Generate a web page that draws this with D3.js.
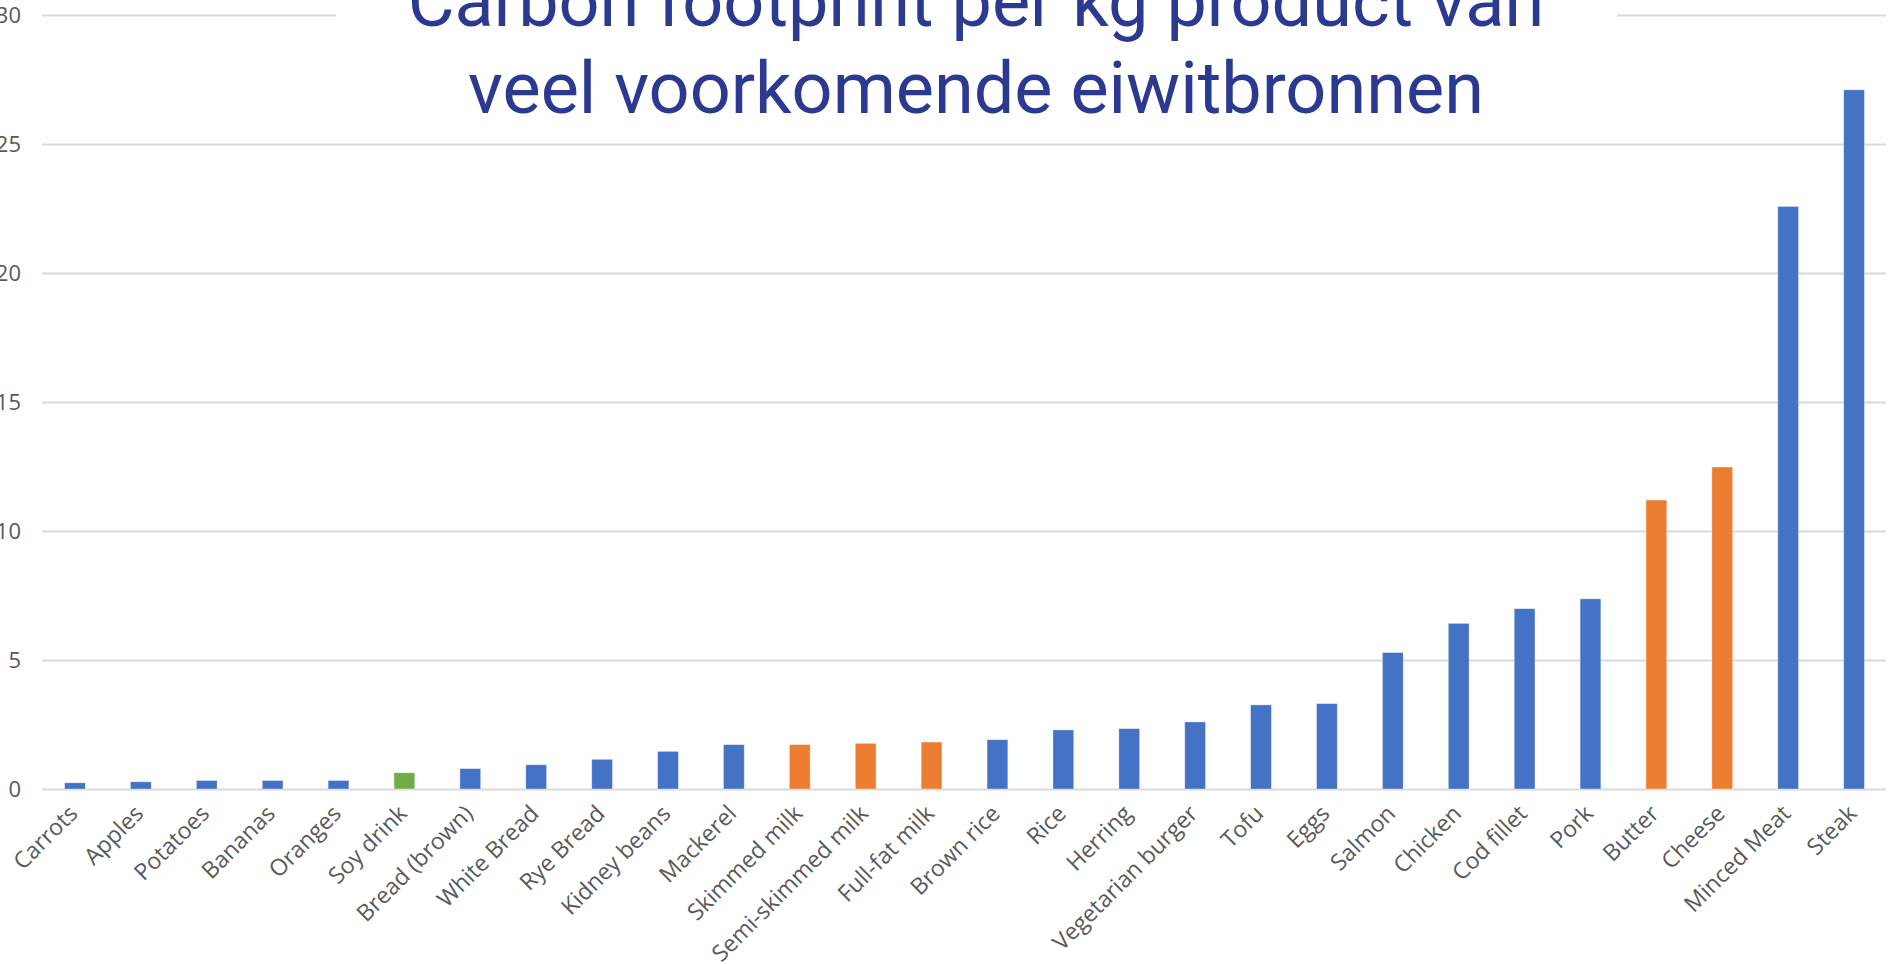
<!DOCTYPE html>
<html>
<head>
<meta charset="utf-8">
<script src="https://cdn.jsdelivr.net/npm/d3@7"></script>
<style>
  html, body { margin: 0; padding: 0; background: #ffffff; overflow: hidden; }
  svg { display: block; }
</style>
</head>
<body>
<svg id="chart" width="1895" height="964"></svg>
<script>
const categories = ["Carrots","Apples","Potatoes","Bananas","Oranges","Soy drink","Bread (brown)","White Bread","Rye Bread","Kidney beans","Mackerel","Skimmed milk","Semi-skimmed milk","Full-fat milk","Brown rice","Rice","Herring","Vegetarian burger","Tofu","Eggs","Salmon","Chicken","Cod fillet","Pork","Butter","Cheese","Minced Meat","Steak"];
const values = [0.24,0.28,0.33,0.33,0.33,0.63,0.79,0.94,1.15,1.46,1.72,1.72,1.77,1.82,1.91,2.29,2.34,2.60,3.26,3.31,5.29,6.42,6.99,7.37,11.2,12.48,22.58,27.1];
const groups = ["other","other","other","other","other","soy","other","other","other","other","other","dairy","dairy","dairy","other","other","other","other","other","other","other","other","other","other","dairy","dairy","other","other"];
const groupKeys = ["other","dairy","soy"];
const groupColors = ["#4472C4","#ED7D31","#70AD47"];
const yTicks = [0,5,10,15,20,25,30];
const titleLines = ["Carbon footprint per kg product van","veel voorkomende eiwitbronnen"];

const data = categories.map((c,i)=>({cat:c, value:values[i], group:groups[i]}));
const svg = d3.select("#chart");

const x = d3.scaleBand().domain(categories).range([42, 1887]).paddingInner(0.685).paddingOuter(0.3425);
const y = d3.scaleLinear().domain([0,30]).range([789, 15]);
const color = d3.scaleOrdinal().domain(groupKeys).range(groupColors);

// gridlines
const yAxis = d3.axisLeft(y).tickValues(yTicks).tickSize(-(1886-42)).tickPadding(21).tickFormat(d3.format("d"));
const gy = svg.append("g").attr("transform","translate(42,0)").call(yAxis);
gy.select(".domain").remove();
gy.selectAll(".tick line").attr("stroke","#D9D9D9").attr("stroke-width",1.8);
gy.selectAll(".tick text").attr("fill","#595959").attr("font-family","'Open Sans', sans-serif").attr("font-size","22px");

// bars
svg.append("g").selectAll("rect").data(data).join("rect")
  .attr("x", d=>x(d.cat))
  .attr("width", x.bandwidth())
  .attr("y", d=>y(d.value))
  .attr("height", d=>y(0)-y(d.value))
  .attr("fill", d=>color(d.group))
  .attr("stroke","#ffffff").attr("stroke-opacity",0.45).attr("stroke-width",0.8);

// x labels
const xAxis = d3.axisBottom(x).tickSize(0).tickPadding(0);
const gx = svg.append("g").attr("transform","translate(0,789)").call(xAxis);
gx.select(".domain").remove();
gx.selectAll(".tick text")
  .attr("fill","#595959").attr("font-family","'Open Sans', sans-serif").attr("font-size","23px")
  .attr("text-anchor","end").attr("dy",0).attr("y",0)
  .attr("transform","translate(4,26) rotate(-45)");

// title background & title
svg.append("rect").attr("x",336).attr("y",0).attr("width",1617-336).attr("height",125).attr("fill","#ffffff");
svg.append("g").selectAll("text").data(titleLines).join("text")
  .attr("x",976).attr("y",(d,i)=>26+i*87)
  .attr("text-anchor","middle")
  .attr("font-family","Roboto, sans-serif").attr("font-size","72px")
  .attr("fill","#2B3990")
  .text(d=>d);
</script>
</body>
</html>
